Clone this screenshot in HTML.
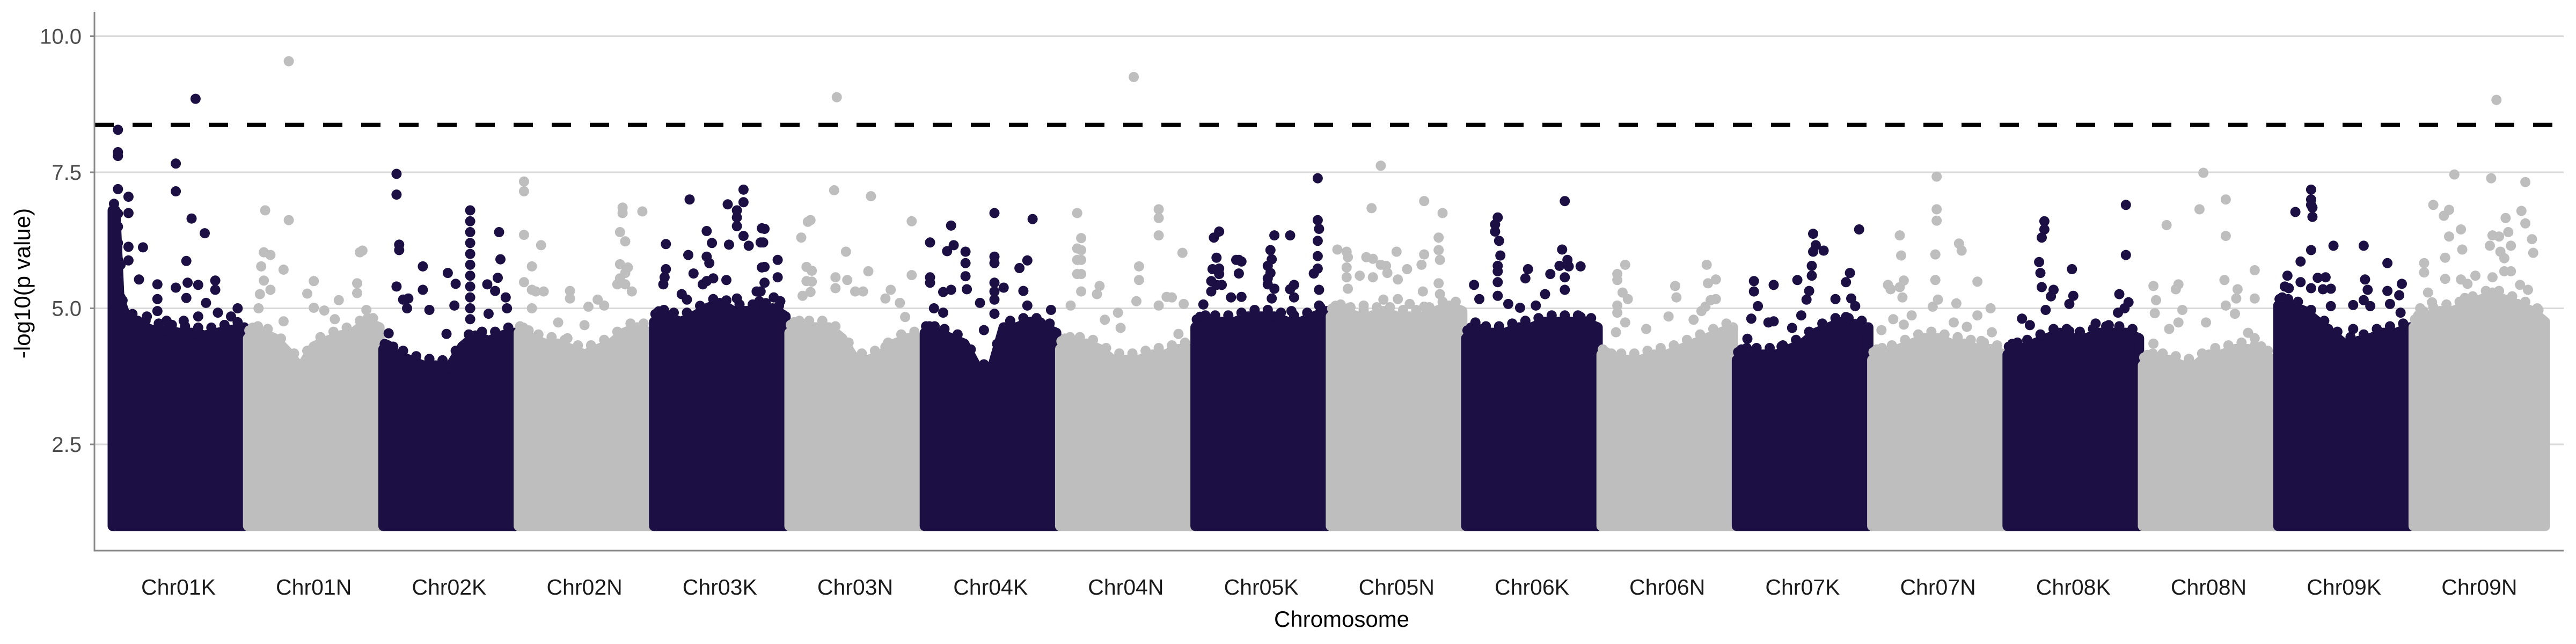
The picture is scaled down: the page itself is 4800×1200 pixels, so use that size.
<!DOCTYPE html>
<html><head><meta charset="utf-8"><style>
html,body{margin:0;padding:0;background:#fff;}
svg{display:block;}
text{font-family:"Liberation Sans",sans-serif;}
</style></head><body>
<svg id="chart" width="4800" height="1200" viewBox="0 0 4800 1200" xmlns="http://www.w3.org/2000/svg">
<rect x="0" y="0" width="4800" height="1200" fill="#fff"/>
<g id="grid"></g>
<g id="marks"></g>
<g id="axes"></g>
<text x="45" y="528" transform="rotate(-90 45 528)" text-anchor="middle" dominant-baseline="middle" font-size="42" fill="#000">-log10(p value)</text>
<text x="2500" y="1168" text-anchor="middle" font-size="42" fill="#000">Chromosome</text>
</svg>
<script>
const chromosomes = ["Chr01K","Chr01N","Chr02K","Chr02N","Chr03K","Chr03N","Chr04K","Chr04N","Chr05K","Chr05N","Chr06K","Chr06N","Chr07K","Chr07N","Chr08K","Chr08N","Chr09K","Chr09N"];
const yTicks = [2.5, 5.0, 7.5, 10.0];
const yTickLabels = ["2.5","5.0","7.5","10.0"];
const threshold = 8.37;
// dense-body ceiling per chromosome, sampled at positions in ceilingPos
const ceilingPos = [0,0.02,0.05,0.1,0.2,0.3,0.4,0.5,0.6,0.7,0.8,0.9,1];
const ceilings = [
[6.8,6.8,5.2,4.85,4.7,4.6,4.6,4.55,4.55,4.5,4.55,4.6,4.65],
[4.45,4.5,4.55,4.55,4.45,4.2,3.9,4.3,4.4,4.5,4.55,4.75,4.65],
[4.25,4.2,4.2,4.15,4.05,3.95,3.95,3.9,4.3,4.5,4.4,4.5,4.55],
[4.55,4.55,4.5,4.45,4.35,4.35,4.25,4.15,4.25,4.35,4.55,4.65,4.55],
[4.75,4.8,4.85,4.85,4.75,4.85,5.0,5.1,4.95,4.95,4.95,5.0,4.85],
[4.55,4.6,4.65,4.65,4.65,4.65,4.45,4.05,4.05,4.15,4.35,4.45,4.45],
[4.55,4.55,4.55,4.55,4.45,4.35,3.9,3.8,4.65,4.65,4.75,4.65,4.55],
[4.25,4.3,4.35,4.35,4.35,4.25,4.05,4.05,4.05,4.15,4.15,4.25,4.25],
[4.65,4.7,4.75,4.75,4.75,4.75,4.85,4.85,4.85,4.75,4.75,4.85,4.95],
[4.85,4.9,4.95,4.95,4.85,4.85,4.95,4.85,4.85,4.85,4.95,5.05,4.95],
[4.45,4.5,4.55,4.55,4.55,4.55,4.65,4.65,4.75,4.75,4.75,4.75,4.65],
[4.15,4.1,4.05,4.05,4.05,4.05,4.15,4.15,4.25,4.35,4.45,4.55,4.65],
[4.05,4.1,4.15,4.15,4.15,4.15,4.25,4.35,4.55,4.65,4.75,4.65,4.65],
[4.05,4.1,4.15,4.15,4.25,4.35,4.45,4.45,4.35,4.35,4.25,4.25,4.15],
[4.15,4.2,4.25,4.25,4.35,4.45,4.55,4.45,4.45,4.55,4.55,4.55,4.45],
[3.95,4.0,4.05,4.05,4.05,3.95,3.95,4.15,4.15,4.25,4.25,4.15,4.05],
[5.05,5.05,5.05,5.05,4.95,4.75,4.55,4.35,4.35,4.45,4.55,4.55,4.65],
[4.65,4.7,4.8,4.85,4.95,4.95,5.05,5.15,5.25,5.15,5.05,4.95,4.75]];
// outlier positions (fraction along chromosome) and -log10 p values
const outlierPos = [
[.04,.04,.04,.04,.12,.04,.12,.48,.48,.6,.7,.63,.23,.12,.12,.2,.34,.34,.48,.56,.57,.65,.78,.78,.95,.71,.56,.04,.04,.04,.04,.04,.06,.06,.19,.26,.34,.41,.54,.65,.8,.9,.95,.03,.05],
[.31,.13,.31,.12,.17,.1,.27,.12,.5,.09,.17,.45,.85,.87,.83,.83,.69,.27,.58,.66,.9,.91,.08,.5],
[.1,.1,.12,.12,.3,.1,.3,.15,.19,.35,.49,.55,.66,.66,.66,.66,.66,.66,.66,.66,.66,.66,.66,.88,.89,.87,.85,.93,.79,.8,.04,.18,.54,.94,.48],
[.04,.04,.04,.17,.1,.04,.1,.13,.19,.39,.39,.79,.79,.94,.77,.81,.77,.83,.81,.77,.81,.75,.6,.53,.65,.86,.1,.3,.5,.37],
[.09,.09,.08,.07,.27,.26,.4,.4,.42,.44,.56,.63,.63,.63,.68,.68,.68,.72,.57,.81,.82,.82,.3,.37,.4,.45,.55,.21,.25,.63,.81,.8,.84,.83,.84,.84,.94,.94,.78,.91,.96],
[.36,.34,.62,.14,.16,.93,.09,.43,.13,.17,.6,.35,.44,.13,.17,.93,.1,.16,.35,.5,.56,.77,.73,.84,.88,.07,.73,.63],
[.04,.2,.17,.22,.31,.31,.31,.32,.04,.04,.14,.2,.53,.53,.53,.53,.53,.53,.53,.82,.78,.72,.6,.75,.78,.96,.88,.42,.45,.14,.07],
[.56,.13,.16,.13,.16,.13,.16,.13,.16,.75,.75,.75,.93,.6,.6,.3,.16,.08,.81,.85,.94,.75,.58,.44,.28,.34,.46,.9],
[.14,.18,.16,.31,.33,.35,.33,.18,.18,.13,.12,.12,.16,.2,.55,.57,.58,.6,.55,.55,.57,.6,.06,.27,.35,.58,.72,.93,.93,.94,.93,.93,.93,.9,.94,.75,.72,.75,.94,.73],
[.38,.31,.71,.85,.82,.05,.12,.13,.27,.32,.38,.42,.5,.58,.69,.71,.82,.83,.12,.12,.13,.22,.32,.43,.51,.82,.83,.06,.14,.51,.6,.7,.71,.84,.25,.4],
[.75,.24,.22,.22,.25,.26,.24,.24,.24,.73,.71,.77,.78,.87,.64,.75,.75,.47,.45,.06,.1,.24,.32,.41,.53,.6,.87,.92,.07,.79],
[.18,.12,.12,.16,.2,.12,.12,.56,.57,.8,.81,.87,.83,.87,.79,.76,.51,.7,.18,.11,.34,.58],
[.13,.13,.28,.16,.11,.08,.24,.28,.46,.58,.58,.57,.57,.55,.6,.53,.49,.34,.42,.93,.66,.86,.83,.75,.87,.9,.83,.9],
[.49,.49,.49,.21,.22,.66,.68,.48,.48,.12,.14,.21,.24,.23,.8,.64,.46,.5,.9,.3,.16,.24,.07,.62,.72,.8,.91,.83],
[.9,.28,.28,.26,.24,.25,.49,.9,.26,.35,.33,.5,.47,.85,.92,.29,.89,.84,.11,.17,.67,.77,.93,.06,.47],
[.46,.63,.43,.18,.63,.85,.08,.27,.25,.62,.72,.71,.85,.1,.09,.3,.63,.7,.48,.27,.2,.8,.85,.9,.08],
[.25,.25,.25,.26,.26,.13,.25,.17,.07,.17,.25,.3,.34,.08,.4,.42,.65,.83,.36,.4,.66,.68,.83,.92,.94,.57,.65,.85,.7,.93,.38,.57,.44,.61,.03,.05],
[.63,.31,.59,.85,.15,.27,.23,.82,.85,.7,.36,.72,.27,.6,.65,.58,.74,.9,.91,.37,.24,.66,.69,.08,.08,.24,.6,.69,.74,.36,.47,.41,.81,.87,.11,.6,.94,.95,.93,.05,.14,.39,.79,.49]];
const outlierVal = [
[8.28,7.87,7.8,7.19,7.05,6.74,6.75,7.66,7.15,6.65,6.38,8.85,6.12,6.13,5.88,5.53,5.44,5.17,5.38,5.87,5.47,5.43,5.51,5.34,5.0,5.1,5.19,6.5,6.2,5.9,5.6,5.3,5.8,5.2,4.77,4.85,4.95,4.77,4.77,4.85,4.92,4.85,4.62,6.0,5.0],
[9.54,6.8,6.62,6.03,5.98,5.77,5.71,5.51,5.5,5.26,5.34,5.27,6.03,6.06,5.46,5.28,5.15,4.76,4.96,4.8,4.97,4.82,5.0,5.01],
[7.47,7.09,6.17,6.07,5.77,5.4,5.34,5.16,5.18,4.97,5.65,5.45,6.8,6.6,6.4,6.2,6.0,5.8,5.6,5.4,5.2,5.0,4.8,6.4,5.9,5.56,5.32,5.2,5.44,4.9,4.54,5.0,5.05,5.0,4.53],
[7.33,7.15,6.35,6.16,5.77,5.48,5.34,5.31,5.31,5.32,5.18,6.85,6.75,6.78,6.4,6.23,5.81,5.75,5.65,5.55,5.44,5.44,5.16,5.03,5.05,5.31,5.0,4.74,4.69,4.45],
[6.18,5.72,5.57,5.44,7.0,5.98,6.42,5.95,5.83,6.2,6.91,6.8,6.67,6.51,7.18,6.95,6.33,6.15,6.17,6.21,6.47,5.75,5.64,5.44,5.5,5.55,5.52,5.26,5.16,5.18,5.31,5.13,6.46,6.21,5.76,5.47,5.89,5.57,5.31,5.2,5.13],
[8.88,7.17,7.06,6.59,6.62,6.6,6.3,6.04,5.76,5.69,5.68,5.57,5.52,5.5,5.49,5.61,5.23,5.3,5.37,5.31,5.31,5.34,5.18,5.1,4.84,4.58,4.29,4.04],
[6.21,6.52,6.05,6.16,6.04,5.83,5.59,5.35,5.57,5.47,5.3,5.34,6.75,5.95,5.83,5.47,5.31,5.16,4.9,6.64,5.88,5.74,5.38,5.32,5.05,4.97,4.74,5.1,4.6,4.92,5.0],
[9.25,6.75,6.29,6.1,6.07,5.89,5.89,5.63,5.63,6.82,6.66,6.34,6.02,5.77,5.52,5.41,5.31,5.05,5.21,5.2,5.08,5.05,5.13,4.92,5.26,4.79,4.64,4.53],
[6.3,6.41,5.93,5.89,5.89,5.86,5.64,5.73,5.63,5.72,5.5,5.31,5.43,5.43,5.78,6.07,5.9,6.34,5.55,5.44,5.65,5.36,5.07,5.2,5.21,5.18,6.34,7.39,6.62,6.46,6.24,5.96,5.73,5.64,5.34,5.43,5.35,5.2,5.05,4.95],
[7.62,6.84,6.97,6.75,6.3,6.08,6.04,5.94,5.94,5.91,5.8,5.78,6.04,5.72,5.8,5.99,6.07,5.89,5.75,5.57,5.36,5.6,5.57,5.65,5.53,5.46,5.26,5.0,5.01,5.17,5.08,5.31,5.03,4.74,5.05,5.16],
[6.97,6.67,6.54,6.41,6.24,5.97,5.78,5.68,5.48,6.08,5.78,5.89,5.77,5.77,5.63,5.57,5.34,5.72,5.55,5.43,5.17,5.23,5.08,5.01,5.05,5.26,4.84,4.64,4.74,4.74],
[5.8,5.63,5.52,5.29,5.17,5.05,4.92,5.41,5.2,5.8,5.46,5.53,5.15,5.17,5.03,4.95,4.85,4.79,4.74,4.56,4.62,4.19],
[5.5,5.31,5.43,5.04,4.81,4.44,4.74,4.76,5.52,6.37,6.04,5.78,5.6,5.32,6.16,5.16,4.87,4.3,4.64,6.45,6.06,5.65,5.48,5.17,5.18,5.04,4.84,4.71],
[7.42,6.82,6.61,6.34,5.97,6.19,6.06,5.99,5.52,5.43,5.35,5.39,5.51,5.2,5.49,5.09,5.03,5.16,5.0,4.87,4.8,4.7,4.6,4.74,4.66,4.87,4.56,4.4],
[6.9,6.6,6.45,6.3,5.85,5.65,5.72,5.98,5.39,5.34,5.22,5.23,5.08,5.26,5.11,4.97,5.0,4.92,4.81,4.69,4.72,4.69,4.45,4.09,4.58],
[7.49,7.0,6.82,6.53,6.33,5.7,5.41,5.44,5.35,5.52,5.35,5.18,5.18,5.15,4.91,4.97,5.05,4.9,4.74,4.74,4.62,4.55,4.45,4.3,4.35],
[7.18,7.0,6.9,6.85,6.68,6.77,6.07,5.86,5.6,5.48,5.37,5.56,5.35,5.37,5.04,6.15,6.15,5.83,5.57,5.36,5.53,5.34,5.32,5.24,5.45,5.06,5.15,5.08,5.04,4.92,4.62,4.62,4.36,4.4,5.2,5.4],
[8.83,7.46,7.39,7.32,6.9,6.81,6.7,6.79,6.56,6.66,6.45,6.4,6.32,6.34,6.32,6.15,6.15,6.27,6.02,6.08,5.93,6.04,5.92,5.83,5.66,5.54,5.57,5.68,5.68,5.53,5.6,5.45,5.43,5.34,5.29,5.29,5.0,4.79,4.43,5.0,5.11,5.19,5.08,5.11]];

const NS='http://www.w3.org/2000/svg';
const X0=176, X1=4777, AXIS_Y=1026;
const START=210, PITCH=252.2, BLOCK_W=245, R=9.5;
const COLORS=['#1c0f44','#bebebe'];
function yScale(v){ return 828 - (v-2.5)*101.4; }
function xScale(ci,pos){ return START + ci*PITCH + pos*BLOCK_W; }
function el(tag,attrs,parent){ const e=document.createElementNS(NS,tag); for(const k in attrs) e.setAttribute(k,attrs[k]); parent.appendChild(e); return e; }

const grid=document.getElementById('grid');
yTicks.forEach((t,i)=>{
  const g=el('line',{x1:X0,x2:X1,y1:yScale(t),y2:yScale(t),stroke:'#d9d9d9','stroke-width':3},grid);
  
  
});

const marks=document.getElementById('marks');
chromosomes.forEach((c,ci)=>{
  const col=COLORS[ci%2];
  const g=el('g',{},marks);
  
  
  const ce=ceilings[ci];
  let d='M'+xScale(ci,0)+','+yScale(1);
  ce.forEach((v,j)=>{ d+=' L'+xScale(ci,ceilingPos[j]).toFixed(1)+','+yScale(v).toFixed(1); });
  d+=' L'+xScale(ci,1)+','+yScale(1)+' Z';
  const body=el('path',{d:d,fill:col,stroke:col,'stroke-width':2*R,'stroke-linejoin':'round'},g);
  
  
  // speckled edge dots along ceiling
  for(let j=0;j<ce.length-1;j++){
    const mx=xScale(ci,(ceilingPos[j]+ceilingPos[j+1])/2);
    const my=yScale((ce[j]+ce[j+1])/2+0.12);
    const sp=el('circle',{cx:mx.toFixed(1),cy:my.toFixed(1),r:R,fill:col},g);
    
    
  }
  outlierPos[ci].forEach((p,k)=>{
    const pt=el('circle',{cx:xScale(ci,p).toFixed(1),cy:yScale(outlierVal[ci][k]).toFixed(1),r:R,fill:col},g);
    
    
  });
});

const axes=document.getElementById('axes');
const th=el('line',{x1:X0,x2:X1,y1:yScale(threshold),y2:yScale(threshold),stroke:'#000','stroke-width':8,'stroke-dasharray':'36 35'},axes);


const ya=el('line',{x1:X0,x2:X0,y1:22,y2:AXIS_Y+1.5,stroke:'#888','stroke-width':3},axes);


const xa=el('line',{x1:X0-1.5,x2:X1,y1:AXIS_Y,y2:AXIS_Y,stroke:'#888','stroke-width':3},axes);


yTicks.forEach((t,i)=>{
  const tk=el('line',{x1:X0-8,x2:X0,y1:yScale(t),y2:yScale(t),stroke:'#888','stroke-width':3},axes);
  
  
  const tl=el('text',{x:152,y:yScale(t)+14,'text-anchor':'end','font-size':40,fill:'#4d4d4d'},axes);
  tl.textContent=yTickLabels[i];
  
  
});
chromosomes.forEach((c,ci)=>{
  const tl=el('text',{x:xScale(ci,0.5).toFixed(1),y:1108,'text-anchor':'middle','font-size':41,fill:'#1a1a1a'},axes);
  tl.textContent=c;
  
  
});
</script>
</body></html>
